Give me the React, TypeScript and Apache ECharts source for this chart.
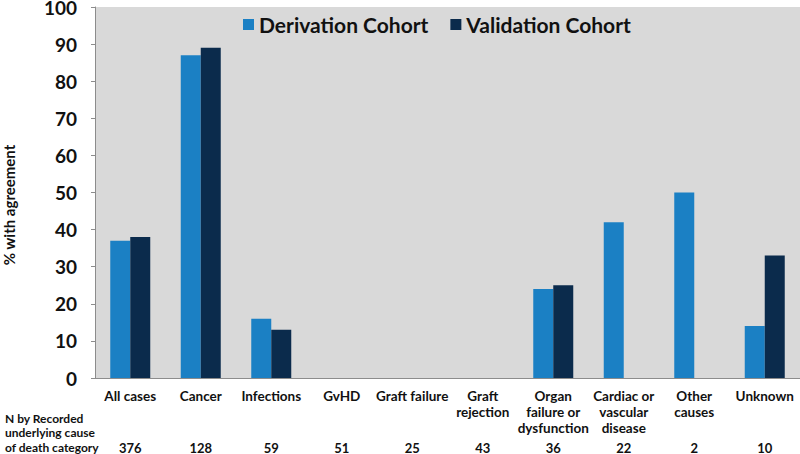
import React, { useEffect, useRef } from "react";
import * as echarts from "echarts";

const categories = [
  "All cases",
  "Cancer",
  "Infections",
  "GvHD",
  "Graft failure",
  "Graft\nrejection",
  "Organ\nfailure or\ndysfunction",
  "Cardiac or\nvascular\ndisease",
  "Other\ncauses",
  "Unknown",
];
const derivation = [37, 87, 16, 0, 0, 0, 24, 42, 50, 14];
const validation = [38, 89, 13, 0, 0, 0, 25, null, null, 33];
const nCounts = ["376", "128", "59", "51", "25", "43", "36", "22", "2", "10"];
const nLabel = "N by Recorded\nunderlying cause\nof death category";
const yTitle = "% with agreement";

const FONT = "Lato";

export default function App() {
  const ref = useRef<HTMLDivElement>(null);
  useEffect(() => {
    const chart = echarts.init(ref.current!, null, { renderer: "svg" });
    chart.setOption({
      animation: false,
      backgroundColor: "#ffffff",
      textStyle: { fontFamily: FONT },
      grid: {
        left: 95,
        right: 0,
        top: 7,
        bottom: 76,
        show: true,
        backgroundColor: "#d9d9d9",
        borderWidth: 0,
        outerBoundsMode: "none",
        containLabel: false,
      },
      legend: {
        top: 9,
        left: 238,
        itemWidth: 11,
        itemHeight: 11,
        itemGap: 22,
        icon: "rect",
        textStyle: { fontFamily: FONT, fontWeight: "bold", fontSize: 21, color: "#111" },
        data: ["Derivation Cohort", "Validation Cohort"],
      },
      xAxis: [
        {
          type: "category",
          data: categories,
          axisLine: { lineStyle: { color: "#8c8c8c" } },
          axisTick: { length: 5, lineStyle: { color: "#8c8c8c" } },
          axisLabel: {
            interval: 0,
            fontFamily: FONT,
            fontWeight: "bold",
            fontSize: 13.5,
            lineHeight: 16,
            color: "#111",
            margin: 10,
            verticalAlign: "top",
          },
        },
        {
          type: "category",
          position: "bottom",
          offset: 55,
          data: nCounts,
          axisLine: { show: false },
          axisTick: { show: false },
          axisLabel: { interval: 0, fontFamily: FONT, fontWeight: "bold", fontSize: 13, color: "#111", margin: 8 },
        },
      ],
      yAxis: {
        type: "value",
        min: 0,
        max: 100,
        interval: 10,
        axisLine: { show: true, lineStyle: { color: "#8c8c8c" } },
        axisTick: { show: true, length: 4, lineStyle: { color: "#8c8c8c" } },
        splitLine: { show: false },
        axisLabel: {
          fontFamily: FONT,
          fontWeight: "bold",
          fontSize: 19,
          lineHeight: 14,
          color: "#111",
          margin: 18,
        },
      },
      series: [
        {
          name: "Derivation Cohort",
          type: "bar",
          data: derivation,
          barWidth: 20,
          barGap: "0%",
          itemStyle: { color: "#1b80c4" },
        },
        {
          name: "Validation Cohort",
          type: "bar",
          data: validation,
          barWidth: 20,
          barGap: "0%",
          itemStyle: { color: "#0b2b4c" },
        },
      ],
      graphic: [
        {
          type: "text",
          left: 5,
          top: 411,
          style: { text: nLabel, fontFamily: FONT, fontWeight: "bold", fontSize: 12, lineHeight: 14.5, fill: "#111" },
        },
        {
          type: "text",
          x: 9,
          y: 205,
          rotation: Math.PI / 2,
          style: {
            text: yTitle,
            fontFamily: FONT,
            fontWeight: "bold",
            fontSize: 15,
            fill: "#111",
            align: "center",
            verticalAlign: "middle",
          },
        },
      ],
    });
    return () => chart.dispose();
  }, []);
  return <div ref={ref} style={{ width: 800, height: 454, position: "absolute", left: 0, top: 0 }} />;
}
